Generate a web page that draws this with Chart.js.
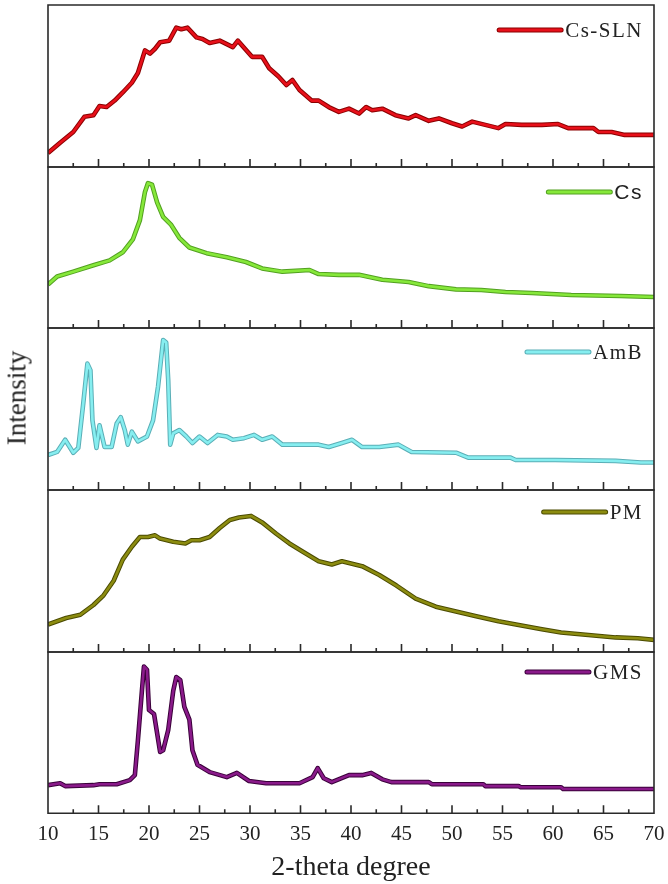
<!DOCTYPE html>
<html>
<head>
<meta charset="utf-8">
<script src="https://cdn.jsdelivr.net/npm/chart.js@4.4.0/dist/chart.umd.min.js"></script>
<style>
  html, body { margin: 0; padding: 0; background: #fff; overflow: hidden; }
  #page { position: relative; width: 668px; height: 884px; }
  .panel { position: absolute; left: 0; width: 668px; }
  #ylabel {
    position: absolute; left: 17px; top: 398px;
    transform: translate(-50%, -50%) rotate(-90deg);
    font: 27px "Liberation Serif", "DejaVu Serif", serif; color: #222; white-space: nowrap;
  }
</style>
</head>
<body>
<div id="page">
  <div class="panel" id="w0"><canvas id="c0"></canvas></div>
  <div class="panel" id="w1"><canvas id="c1"></canvas></div>
  <div class="panel" id="w2"><canvas id="c2"></canvas></div>
  <div class="panel" id="w3"><canvas id="c3"></canvas></div>
  <div class="panel" id="w4"><canvas id="c4"></canvas></div>
  <div id="ylabel">Intensity</div>
</div>
<script>
// x axis range and tick step (2-theta, degrees)
const xMin = 10, xMax = 70, xStep = 5;

// Cs-SLN
const xCsSln = [10, 11.2, 12.5, 13.6, 14.5, 15.1, 15.8, 16.6, 17.4, 18.3, 18.9, 19.3, 19.6, 20.1, 20.6, 21.1, 22.0, 22.7, 23.2, 23.8,
  24.7, 25.3, 26.0, 27.0, 28.3, 28.8, 29.5, 30.2, 31.2, 31.9, 32.8, 33.6, 34.2, 34.9, 36.1, 36.8, 37.8, 38.8, 39.8, 40.8,
  41.5, 42.1, 43.1, 44.4, 45.7, 46.4, 47.7, 48.7, 50.0, 51.0, 52.0, 53.3, 54.6, 55.3, 56.9, 58.9, 60.5, 61.5, 62.8, 64.0,
  64.5, 65.8, 67.1, 68.4, 70];
const yCsSln = [8.6, 15, 21.6, 31, 32, 37.6, 37, 41, 46, 52, 58, 66, 72, 70, 73, 77, 78, 86, 85, 86,
  80, 79, 76.5, 78, 74, 78, 73, 68, 68, 61, 56, 50.6, 53.7, 47.5, 41, 41, 37, 34, 36, 33,
  37, 35, 36, 32, 30, 32, 28.5, 30, 27, 25, 28, 26, 24, 26.5, 26, 26, 26.5, 24, 24, 24,
  21.6, 21.6, 19.8, 19.8, 19.8];

// Cs
const xCs = [10, 10.9, 12.5, 14.5, 16.1, 17.4, 18.4, 19.1, 19.6, 19.9, 20.3, 20.8, 21.4, 22.2, 23.0, 24.0, 25.7, 27.7, 29.6, 31.2,
  33.2, 35.9, 36.8, 38.8, 40.8, 43.1, 45.7, 47.7, 50.4, 52.9, 55.3, 57.9, 61.8, 66.7, 70];
const yCs = [27, 32, 35, 39, 42, 47, 55, 67, 84.5, 90, 89, 78, 69, 64, 56, 50, 46.5, 44, 41, 37,
  35, 36, 33.5, 33, 33, 30, 28.6, 26, 24, 23.6, 22.4, 21.7, 20.5, 19.9, 19.3];

// AmB
const xAmB = [10, 10.9, 11.7, 12.5, 13.0, 13.5, 13.9, 14.2, 14.4, 14.8, 15.1, 15.6, 16.3, 16.8, 17.2, 17.6, 17.9, 18.3, 18.9, 19.8,
  20.4, 20.9, 21.4, 21.7, 21.9, 22.1, 22.4, 23.0, 23.7, 24.3, 25.0, 25.8, 26.8, 27.7, 28.3, 29.4, 30.4, 31.2, 32.2, 33.2,
  34.9, 36.8, 37.8, 39.1, 40.1, 41.1, 42.8, 44.7, 46.0, 50.4, 51.6, 55.8, 56.3, 60.2, 66.2, 68.7, 70];
const yAmB = [21.6, 23.5, 31, 23, 26, 54, 78, 74, 43, 26, 40, 26.5, 26.5, 41, 45, 37, 28, 36, 30, 33,
  43, 64, 92.6, 91, 68, 28, 35, 37, 33, 29, 33, 29, 34, 33, 31, 32, 34, 31, 33, 28,
  28, 28, 26.5, 29, 31, 26.5, 26.5, 28, 23.5, 23, 20, 20, 18.5, 18.5, 18, 17, 17];

// PM
const xPM = [10, 11.8, 13.2, 14.5, 15.5, 16.5, 17.4, 18.3, 19.1, 19.9, 20.6, 21.1, 22.4, 23.6, 24.2, 25.0, 26.0, 27.0, 28.0, 28.9,
  30.1, 31.2, 32.6, 33.9, 35.2, 36.8, 38.1, 39.1, 41.1, 42.8, 44.5, 46.4, 48.4, 50.4, 52.4, 54.6, 56.6, 58.9, 60.8, 63.5,
  66.2, 68.4, 70];
const yPM = [17, 21, 23, 29, 35, 44, 57, 65, 71, 71, 72, 70, 68, 67, 69, 69, 71, 76.5, 81.5, 83,
  84, 80, 73, 67, 62, 56, 54, 56, 53, 47.5, 41, 33, 28, 25, 22, 19, 16.7, 14, 12, 10.5,
  9, 8.5, 7.5];

// GMS
const xGMS = [10, 11.2, 11.7, 14.5, 15.1, 16.8, 18.1, 18.6, 18.9, 19.3, 19.5, 19.8, 20.0, 20.5, 21.1, 21.4, 21.9, 22.4, 22.7, 23.1,
  23.5, 24.0, 24.3, 24.8, 26.0, 27.7, 28.7, 29.9, 31.6, 34.9, 36.2, 36.7, 37.3, 38.1, 39.8, 41.1, 42.0, 43.1, 44.0, 47.7,
  48.0, 53.1, 53.3, 56.6, 56.8, 60.8, 61.0, 70];
const yGMS = [17.4, 18.6, 16.8, 17.4, 18, 18, 20.5, 23.6, 45, 76, 91, 89, 64, 61.5, 38, 39, 51.5, 76, 84.5, 82.6,
  66, 58, 39, 30, 25.5, 22.4, 25, 20, 18.6, 18.6, 22.4, 28, 21.7, 19.3, 23.6, 23.6, 25, 21, 19.3, 19.3,
  18, 18, 16.8, 16.8, 16.1, 16.1, 15, 15];

const names = ['Cs-SLN', 'Cs', 'AmB', 'PM', 'GMS'];
const xs = [xCsSln, xCs, xAmB, xPM, xGMS];
const ys = [yCsSln, yCs, yAmB, yPM, yGMS];

// styling
const coreColors = ['#e8101a', '#86e83a', '#86eef0', '#8c8c10', '#8a1a8a'];
const edgeColors = ['#8a0000', '#52a020', '#5aaeb6', '#4a4a00', '#3a003a'];
const legendFonts = ['Liberation Serif', 'Liberation Sans', 'Liberation Serif', 'Liberation Serif', 'Liberation Serif'];
const legendDy = [25, 25, 24, 22, 20];
const panelTops = [5, 167, 328, 490, 652];

Chart.defaults.font.family = '"Liberation Serif", "DejaVu Serif", serif';
Chart.defaults.color = '#222';

// draws the box, inward ticks and the little legend of each panel
const framePlugin = {
  id: 'frame',
  afterDatasetsDraw(chart, args, opts) {
    const { ctx, chartArea: a, scales: { x } } = chart;
    ctx.save();
    ctx.strokeStyle = '#2a2a2a';
    ctx.lineWidth = 1.6;
    ctx.beginPath();
    ctx.moveTo(a.left, a.top);
    ctx.lineTo(a.right, a.top);
    ctx.lineTo(a.right, a.bottom);
    ctx.lineTo(a.left, a.bottom);
    ctx.closePath();
    for (let v = xMin + xStep / 2; v < xMax; v += xStep / 2) {
      const px = x.getPixelForValue(v);
      const len = (v % xStep === 0) ? 8 : 4;
      ctx.moveTo(px, a.bottom);
      ctx.lineTo(px, a.bottom - len);
    }
    ctx.stroke();

    // legend entry
    ctx.font = '21px "' + opts.family + '"';
    if ('letterSpacing' in ctx) ctx.letterSpacing = '1.5px';
    const w = ctx.measureText(opts.label).width;
    const tx = 643 - w;
    const ty = a.top + opts.dy;
    const x1 = tx - 4, x0 = x1 - 62;
    ctx.lineCap = 'round';
    ctx.strokeStyle = opts.edge; ctx.lineWidth = 5;
    ctx.beginPath(); ctx.moveTo(x0, ty); ctx.lineTo(x1, ty); ctx.stroke();
    ctx.strokeStyle = opts.core; ctx.lineWidth = 3;
    ctx.beginPath(); ctx.moveTo(x0, ty); ctx.lineTo(x1, ty); ctx.stroke();
    ctx.fillStyle = '#222';
    ctx.textBaseline = 'middle';
    ctx.textAlign = 'left';
    ctx.fillText(opts.label, tx, ty + 1);
    ctx.restore();
  }
};

function buildPanel(i) {
  const last = i === names.length - 1;
  const wrap = document.getElementById('w' + i);
  const top = panelTops[i] - 4;
  const height = last ? 236 : panelTops[i + 1] - panelTops[i] + 8;
  wrap.style.top = top + 'px';
  wrap.style.height = height + 'px';

  const pts = xs[i].map((v, k) => ({ x: v, y: ys[i][k] }));

  new Chart(document.getElementById('c' + i), {
    type: 'line',
    data: {
      datasets: [
        { data: pts, borderColor: coreColors[i], borderWidth: 2.6, pointRadius: 0, tension: 0, borderJoinStyle: 'round' },
        { data: pts, borderColor: edgeColors[i], borderWidth: 4.6, pointRadius: 0, tension: 0, borderJoinStyle: 'round' }
      ]
    },
    options: {
      responsive: true,
      maintainAspectRatio: false,
      animation: false,
      layout: { padding: { left: 48, right: 14, top: 4, bottom: last ? 0 : 4 } },
      scales: {
        x: {
          type: 'linear',
          min: xMin,
          max: xMax,
          display: last,
          // invisible outer tick marks just push the labels down (real ticks are drawn inward by the plugin)
          grid: { display: true, drawOnChartArea: false, drawTicks: true, tickLength: 6, color: 'rgba(0,0,0,0)' },
          border: { display: false },
          ticks: { stepSize: xStep, padding: 3, maxRotation: 0, autoSkip: false, font: { size: 21 }, color: '#222' },
          title: { display: last, text: '2-theta degree', font: { size: 28 }, padding: 0, color: '#222' }
        },
        y: { display: false, min: 0, max: 100 }
      },
      plugins: {
        legend: { display: false },
        tooltip: { enabled: false },
        frame: { label: names[i], core: coreColors[i], edge: edgeColors[i], family: legendFonts[i], dy: legendDy[i] }
      }
    },
    plugins: [framePlugin]
  });
}

for (let i = 0; i < names.length; i++) buildPanel(i);
</script>
</body>
</html>
